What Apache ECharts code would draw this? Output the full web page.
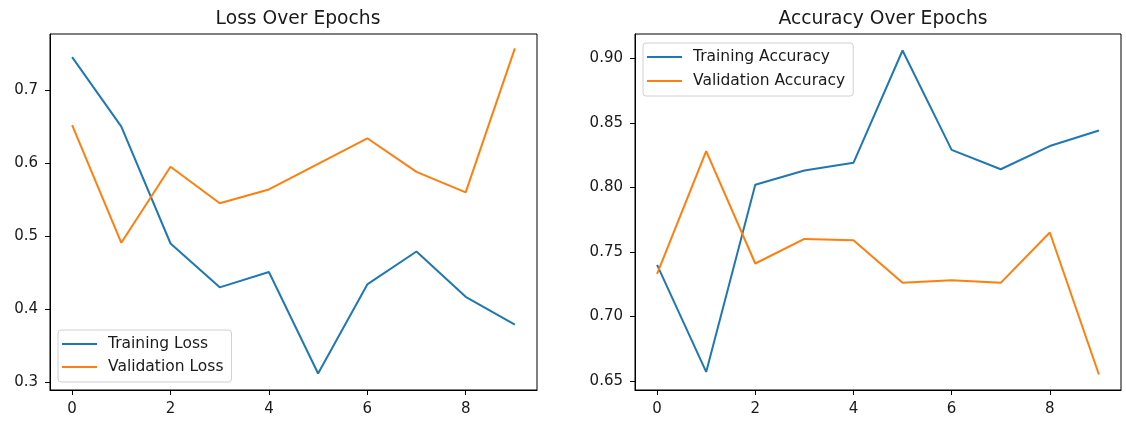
<!DOCTYPE html>
<html>
<head>
<meta charset="utf-8">
<script src="https://cdn.jsdelivr.net/npm/echarts@6/dist/echarts.min.js"></script>
<style>
html,body{margin:0;padding:0;background:#fff;}
#chart{width:1126px;height:425px;}
</style>
</head>
<body>
<div id="chart"></div>
<script>
const epochs = [0,1,2,3,4,5,6,7,8,9];
const trainingLoss = [0.745,0.650,0.490,0.430,0.451,0.312,0.434,0.479,0.417,0.379];
const validationLoss = [0.652,0.491,0.595,0.545,0.564,0.599,0.634,0.588,0.560,0.757];
const trainingAccuracy = [0.740,0.657,0.802,0.813,0.819,0.906,0.829,0.814,0.832,0.844];
const validationAccuracy = [0.733,0.828,0.741,0.760,0.759,0.726,0.728,0.726,0.765,0.655];
const xTicks = [0,2,4,6,8];
const lossTicks = [0.3,0.4,0.5,0.6,0.7];
const lossTickLabels = ['0.3','0.4','0.5','0.6','0.7'];
const accTicks = [0.65,0.70,0.75,0.80,0.85,0.90];
const accTickLabels = ['0.65','0.70','0.75','0.80','0.85','0.90'];

const FONT = 'DejaVu Sans';
const BLUE = '#1f77b4', ORANGE = '#ff7f0e';
const TXT = '#1a1a1a';
const pairs = (ys) => epochs.map((e,i)=>[e, ys[i]]);
const labelFor = (ticks, labels) => (v) => {
  for (let i=0;i<ticks.length;i++) if (Math.abs(ticks[i]-v)<1e-6) return labels[i];
  return '';
};

function xAxis(gi){
  return {
    type:'value', gridIndex:gi, min:-0.45, max:9.45,
    axisLine:{show:true,onZero:false,lineStyle:{color:'#000',width:1}},
    axisTick:{show:true,length:5,customValues:xTicks,lineStyle:{color:'#000'}},
    axisLabel:{customValues:xTicks,color:TXT,fontFamily:FONT,fontSize:15,margin:12},
    splitLine:{show:false}
  };
}
function yAxis(gi,min,max,ticks,labels){
  return {
    type:'value', gridIndex:gi, min:min, max:max,
    axisLine:{show:true,onZero:false,lineStyle:{color:'#000',width:1}},
    axisTick:{show:true,length:5,customValues:ticks,lineStyle:{color:'#000'}},
    axisLabel:{customValues:ticks,formatter:labelFor(ticks,labels),color:TXT,fontFamily:FONT,fontSize:15,margin:12},
    splitLine:{show:false}
  };
}
function line(name,gi,ys,color){
  return {
    name:name,type:'line',xAxisIndex:gi,yAxisIndex:gi,data:pairs(ys),
    showSymbol:false,symbol:'none',lineStyle:{color:color,width:2},itemStyle:{color:color},
    animation:false
  };
}
const legendCommon = {
  orient:'vertical', itemWidth:35, itemHeight:14, itemGap:7,
  icon:'path://M0,0 L35,0 L35,2 L0,2 Z',
  backgroundColor:'rgba(255,255,255,0.8)', borderColor:'#d0d0d0', borderWidth:1, borderRadius:3,
  textStyle:{fontFamily:FONT,fontSize:15.5,color:TXT,lineHeight:14,padding:[0,0,0,6]}
};

const chart = echarts.init(document.getElementById('chart'),null,{renderer:'canvas'});
chart.setOption({
  animation:false,
  backgroundColor:'#fff',
  title:[
    {text:'Loss Over Epochs',left:293,top:5,textAlign:'center',textStyle:{fontFamily:FONT,fontSize:18.7,fontWeight:'normal',color:TXT}},
    {text:'Accuracy Over Epochs',left:878,top:5,textAlign:'center',textStyle:{fontFamily:FONT,fontSize:18.7,fontWeight:'normal',color:TXT}}
  ],
  grid:[
    {left:50,top:34,width:487,height:356,show:true,borderColor:'#000',borderWidth:1,backgroundColor:'transparent'},
    {left:635,top:34,width:486,height:356,show:true,borderColor:'#000',borderWidth:1,backgroundColor:'transparent'}
  ],
  xAxis:[xAxis(0),xAxis(1)],
  yAxis:[yAxis(0,0.2895,0.7767,lossTicks,lossTickLabels),yAxis(1,0.643,0.9188,accTicks,accTickLabels)],
  legend:[
    Object.assign({},legendCommon,{data:['Training Loss','Validation Loss'],left:58,top:330,padding:[6,8,7,4],itemGap:7}),
    Object.assign({},legendCommon,{data:['Training Accuracy','Validation Accuracy'],left:643,top:43,padding:[6,8,7,4],itemGap:8})
  ],
  series:[
    line('Training Loss',0,trainingLoss,BLUE),
    line('Validation Loss',0,validationLoss,ORANGE),
    line('Training Accuracy',1,trainingAccuracy,BLUE),
    line('Validation Accuracy',1,validationAccuracy,ORANGE)
  ]
});
</script>
</body>
</html>
